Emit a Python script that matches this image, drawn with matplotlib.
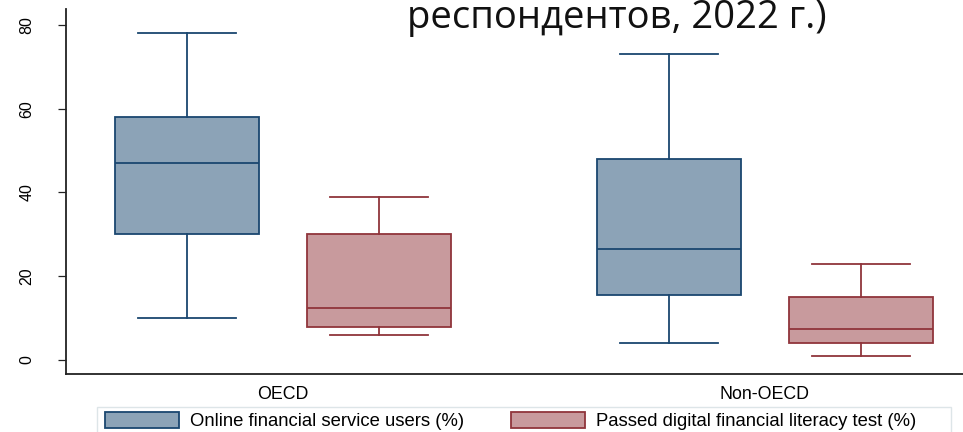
import matplotlib
matplotlib.use('Agg')
import matplotlib.pyplot as plt
from matplotlib.patches import Patch, Rectangle

groups = ['OECD', 'Non-OECD']
series = ['Online financial service users (%)', 'Passed digital financial literacy test (%)']
# per group: [online, passed]
whislo = [[10, 6], [4, 1]]
q1 = [[30, 8], [15.5, 4]]
med = [[47, 12.5], [26.5, 7.5]]
q3 = [[58, 30], [48, 15]]
whishi = [[78, 39], [73, 23]]
yticks = [0, 20, 40, 60, 80]
title_text = 'респондентов, 2022 г.)'

edge_colors = ['#1a476f', '#90353b']
fill_colors = ['#8ca3b7', '#c89a9d']

W, H = 963, 432
fig = plt.figure(figsize=(W / 100, H / 100), dpi=100)
ax = fig.add_axes([66 / W, 1 - 374 / H, 1.0, (374 - 9) / H])

group_gap = 2.51
box_w = 0.75
for g in range(len(groups)):
    for s in range(len(series)):
        pos = g * group_gap + s
        st = [dict(med=med[g][s], q1=q1[g][s], q3=q3[g][s],
                   whislo=whislo[g][s], whishi=whishi[g][s], fliers=[])]
        ec = edge_colors[s]
        ax.bxp(st, positions=[pos], widths=[box_w], capwidths=[0.51],
               patch_artist=True, showfliers=False, manage_ticks=False,
               boxprops=dict(facecolor=fill_colors[s], edgecolor=ec, linewidth=1.3),
               medianprops=dict(color=ec, linewidth=1.3),
               whiskerprops=dict(color=ec, linewidth=1.3),
               capprops=dict(color=ec, linewidth=1.3))

ax.set_xlim(-0.63, (W + 66 - 187) / 192)
ax.set_ylim(-3.34, 83.8)
for sp in ['top', 'right']:
    ax.spines[sp].set_visible(False)
for sp in ['left', 'bottom']:
    ax.spines[sp].set_color('#222222')
    ax.spines[sp].set_linewidth(1.3)

ax.set_yticks(yticks)
ax.set_yticklabels([str(v) for v in yticks], rotation=90, va='center',
                   fontsize=11.5, family='Liberation Sans')
ax.tick_params(axis='y', direction='out', length=5.5, width=0.9, pad=17, color='#222222')
ax.set_xticks([g * group_gap + 0.5 for g in range(len(groups))])
ax.set_xticklabels(groups, fontsize=12.8, family='Liberation Sans')
ax.tick_params(axis='x', length=0, pad=8.5)

# legend region frame
fig.patches.append(Rectangle((97 / W, -0.05), 854 / W, 1 - 407 / H + 0.05,
                             transform=fig.transFigure, facecolor='none',
                             edgecolor='#dde5e8', linewidth=1.0))
handles = [Patch(facecolor=fill_colors[s], edgecolor=edge_colors[s], linewidth=1.3)
           for s in range(len(series))]
leg = fig.legend(handles, series, loc='upper left', ncol=2,
                 bbox_to_anchor=(105 / W, 1 - 412 / H),
                 prop=dict(family='Liberation Sans', size=13.3), frameon=False,
                 handlelength=4.0, handleheight=0.92, handletextpad=0.6,
                 columnspacing=2.55, borderpad=0, borderaxespad=0)

fig.text(617 / W, 1 - 28 / H, title_text, ha='center', va='baseline',
         fontsize=27.5, family='Open Sans', color='#111111')

fig.savefig('out.png', dpi=100, facecolor='white')
